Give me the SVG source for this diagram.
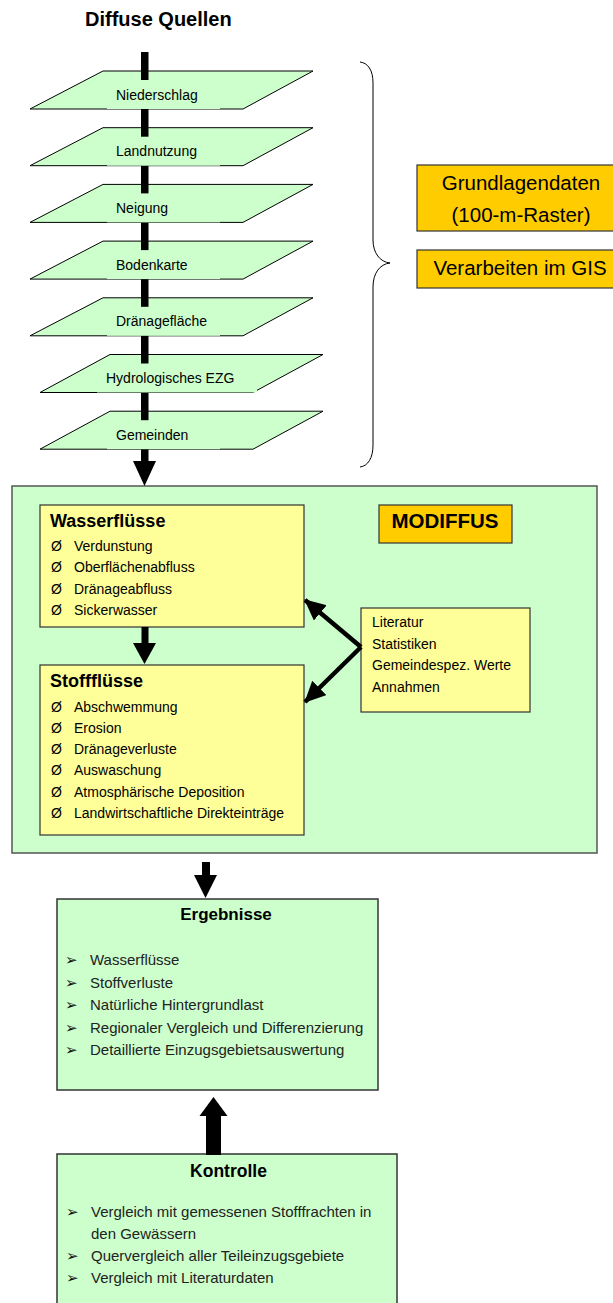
<svg xmlns="http://www.w3.org/2000/svg" width="613" height="1303" viewBox="0 0 613 1303">
<defs>
<style>
text{font-family:"Liberation Sans",Arial,sans-serif;fill:#000}
.para{fill:#CCFFCC;stroke:#000;stroke-width:1}
.lblbg{fill:#CCFFCC;stroke:none}
.lbl{font-size:14px}
.orange{fill:#FFCC00;stroke:#333;stroke-width:1.2}
.yellow{fill:#FFFF99;stroke:#333;stroke-width:1.2}
.green{fill:#CCFFCC;stroke:#333;stroke-width:1.5}
.big{fill:#CCFFCC;stroke:#555;stroke-width:1.5}
.h18{font-size:18px;font-weight:bold}
.it{font-size:14px}
.res{font-size:15px;fill:#222}
.bul{font-family:"DejaVu Sans",sans-serif;font-size:15px;fill:#111}
.blk{fill:#000;stroke:none}
.thick{stroke:#000;stroke-width:4.5;fill:none}
</style>
<marker id="ah" markerUnits="userSpaceOnUse" markerWidth="24" markerHeight="22" refX="20" refY="10" orient="auto">
<path d="M0,0 L21,10 L0,20 Z" fill="#000"/>
</marker>
</defs>
<rect width="613" height="1303" fill="#fff"/>

<g id="title"><text x="85" y="26" style="font-size:20px;font-weight:bold">Diffuse Quellen</text></g>

<g id="layers">
<g id="l1"><polygon class="para" points="103,71 313,71 243,109 30,109"/></g>
<g id="l2"><polygon class="para" points="103,127.7 313,127.7 243,165.7 30,165.7"/></g>
<g id="l3"><polygon class="para" points="103,184.4 313,184.4 243,222.4 30,222.4"/></g>
<g id="l4"><polygon class="para" points="103,241.1 313,241.1 243,279.1 30,279.1"/></g>
<g id="l5"><polygon class="para" points="103,297.8 313,297.8 243,335.8 30,335.8"/></g>
<g id="l6"><polygon class="para" points="110,354.5 323,354.5 253,392.5 40,392.5"/></g>
<g id="l7"><polygon class="para" points="110,411.2 323,411.2 253,449.2 40,449.2"/></g>
</g>

<g id="brace"><path d="M360,62 C368,63 373,70 373,83 L373,240 C373,253 380,262 390,263 C380,264 373,273 373,287 L373,445 C373,458 368,466 360,467" fill="none" stroke="#000" stroke-width="1"/></g>

<g id="grundlagen"><rect class="orange" x="417" y="165" width="210" height="66"/>
<text x="521" y="190" text-anchor="middle" style="font-size:20.5px">Grundlagendaten</text>
<text x="521" y="222" text-anchor="middle" style="font-size:20.5px">(100-m-Raster)</text></g>
<g id="gis"><rect class="orange" x="417" y="250" width="210" height="38"/>
<text x="520" y="275" text-anchor="middle" style="font-size:20.5px">Verarbeiten im GIS</text></g>

<g id="modiffus-area"><rect class="big" x="12" y="486" width="585" height="367"/></g>
<g id="modiffus"><rect class="orange" x="379" y="505" width="133" height="38"/>
<text x="445" y="528" text-anchor="middle" style="font-size:20.5px;font-weight:bold">MODIFFUS</text></g>

<g id="wasser"><rect class="yellow" x="40" y="505" width="264" height="122"/>
<text class="h18" x="50" y="527">Wasserflüsse</text>
<text class="it" x="51" y="551">Ø</text><text class="it" x="74" y="551">Verdunstung</text>
<text class="it" x="51" y="572.3">Ø</text><text class="it" x="74" y="572.3">Oberflächenabfluss</text>
<text class="it" x="51" y="593.6">Ø</text><text class="it" x="74" y="593.6">Dränageabfluss</text>
<text class="it" x="51" y="615">Ø</text><text class="it" x="74" y="615">Sickerwasser</text>
</g>

<g id="stoff"><rect class="yellow" x="40" y="665" width="264" height="170"/>
<text class="h18" x="50" y="687">Stoffflüsse</text>
<text class="it" x="51" y="711.5">Ø</text><text class="it" x="74" y="711.5">Abschwemmung</text>
<text class="it" x="51" y="732.8">Ø</text><text class="it" x="74" y="732.8">Erosion</text>
<text class="it" x="51" y="754.1">Ø</text><text class="it" x="74" y="754.1">Dränageverluste</text>
<text class="it" x="51" y="775.4">Ø</text><text class="it" x="74" y="775.4">Auswaschung</text>
<text class="it" x="51" y="796.7">Ø</text><text class="it" x="74" y="796.7">Atmosphärische Deposition</text>
<text class="it" x="51" y="818">Ø</text><text class="it" x="74" y="818">Landwirtschaftliche Direkteinträge</text>
</g>

<g id="literatur"><rect class="yellow" x="361" y="608" width="169" height="104"/>
<text class="it" x="372" y="627">Literatur</text>
<text class="it" x="372" y="648.5">Statistiken</text>
<text class="it" x="372" y="670">Gemeindespez. Werte</text>
<text class="it" x="372" y="691.5">Annahmen</text>
</g>

<g id="ergebnisse"><rect class="green" x="57" y="899" width="321" height="191"/>
<text x="226" y="920" text-anchor="middle" style="font-size:17px;font-weight:bold">Ergebnisse</text>
<text class="bul" x="65" y="965">➢</text><text class="res" x="90" y="965">Wasserflüsse</text>
<text class="bul" x="65" y="987.5">➢</text><text class="res" x="90" y="987.5">Stoffverluste</text>
<text class="bul" x="65" y="1010">➢</text><text class="res" x="90" y="1010">Natürliche Hintergrundlast</text>
<text class="bul" x="65" y="1032.5">➢</text><text class="res" x="90" y="1032.5">Regionaler Vergleich und Differenzierung</text>
<text class="bul" x="65" y="1055">➢</text><text class="res" x="90" y="1055">Detaillierte Einzugsgebietsauswertung</text>
</g>

<g id="kontrolle"><rect class="green" x="57" y="1154" width="340" height="170"/>
<text x="228.5" y="1177" text-anchor="middle" style="font-size:17.5px;font-weight:bold">Kontrolle</text>
<text class="bul" x="66" y="1217">➢</text><text class="res" x="91" y="1217">Vergleich mit gemessenen Stofffrachten in</text>
<text class="res" x="91" y="1239">den Gewässern</text>
<text class="bul" x="66" y="1261">➢</text><text class="res" x="91" y="1261">Quervergleich aller Teileinzugsgebiete</text>
<text class="bul" x="66" y="1283">➢</text><text class="res" x="91" y="1283">Vergleich mit Literaturdaten</text>
</g>

<g id="connectors">
<rect class="blk" x="141" y="52" width="7.5" height="410"/>
<polygon class="blk" points="133,461 156,461 144.5,486"/>
<rect class="blk" x="141.5" y="627" width="7" height="17"/>
<polygon class="blk" points="133,643 156,643 144.5,664"/>
<line class="thick" x1="361" y1="647" x2="305" y2="600" marker-end="url(#ah)"/>
<line class="thick" x1="361" y1="647" x2="305" y2="702" marker-end="url(#ah)"/>
<rect class="blk" x="202" y="862" width="8" height="14"/>
<polygon class="blk" points="194,875 217,875 205.5,898"/>
<rect class="blk" x="206" y="1115" width="15" height="40"/>
<polygon class="blk" points="199.5,1116 227.5,1116 213.5,1097"/>
</g>

<g id="layer-labels">
<g id="t1"><rect class="lblbg" x="107" y="80" width="113" height="29"/><text class="lbl" x="116" y="100">Niederschlag</text></g>
<g id="t2"><rect class="lblbg" x="107" y="136.7" width="113" height="29"/><text class="lbl" x="116" y="156.2">Landnutzung</text></g>
<g id="t3"><rect class="lblbg" x="107" y="193.4" width="113" height="29"/><text class="lbl" x="116" y="212.9">Neigung</text></g>
<g id="t4"><rect class="lblbg" x="107" y="250.1" width="113" height="29"/><text class="lbl" x="116" y="269.6">Bodenkarte</text></g>
<g id="t5"><rect class="lblbg" x="107" y="306.8" width="113" height="29"/><text class="lbl" x="116" y="326.3">Dränagefläche</text></g>
<g id="t6"><rect class="lblbg" x="97" y="363.5" width="160" height="29"/><text class="lbl" x="106" y="383">Hydrologisches EZG</text></g>
<g id="t7"><rect class="lblbg" x="107" y="420.2" width="113" height="29"/><text class="lbl" x="116" y="439.7">Gemeinden</text></g>
</g>
</svg>
